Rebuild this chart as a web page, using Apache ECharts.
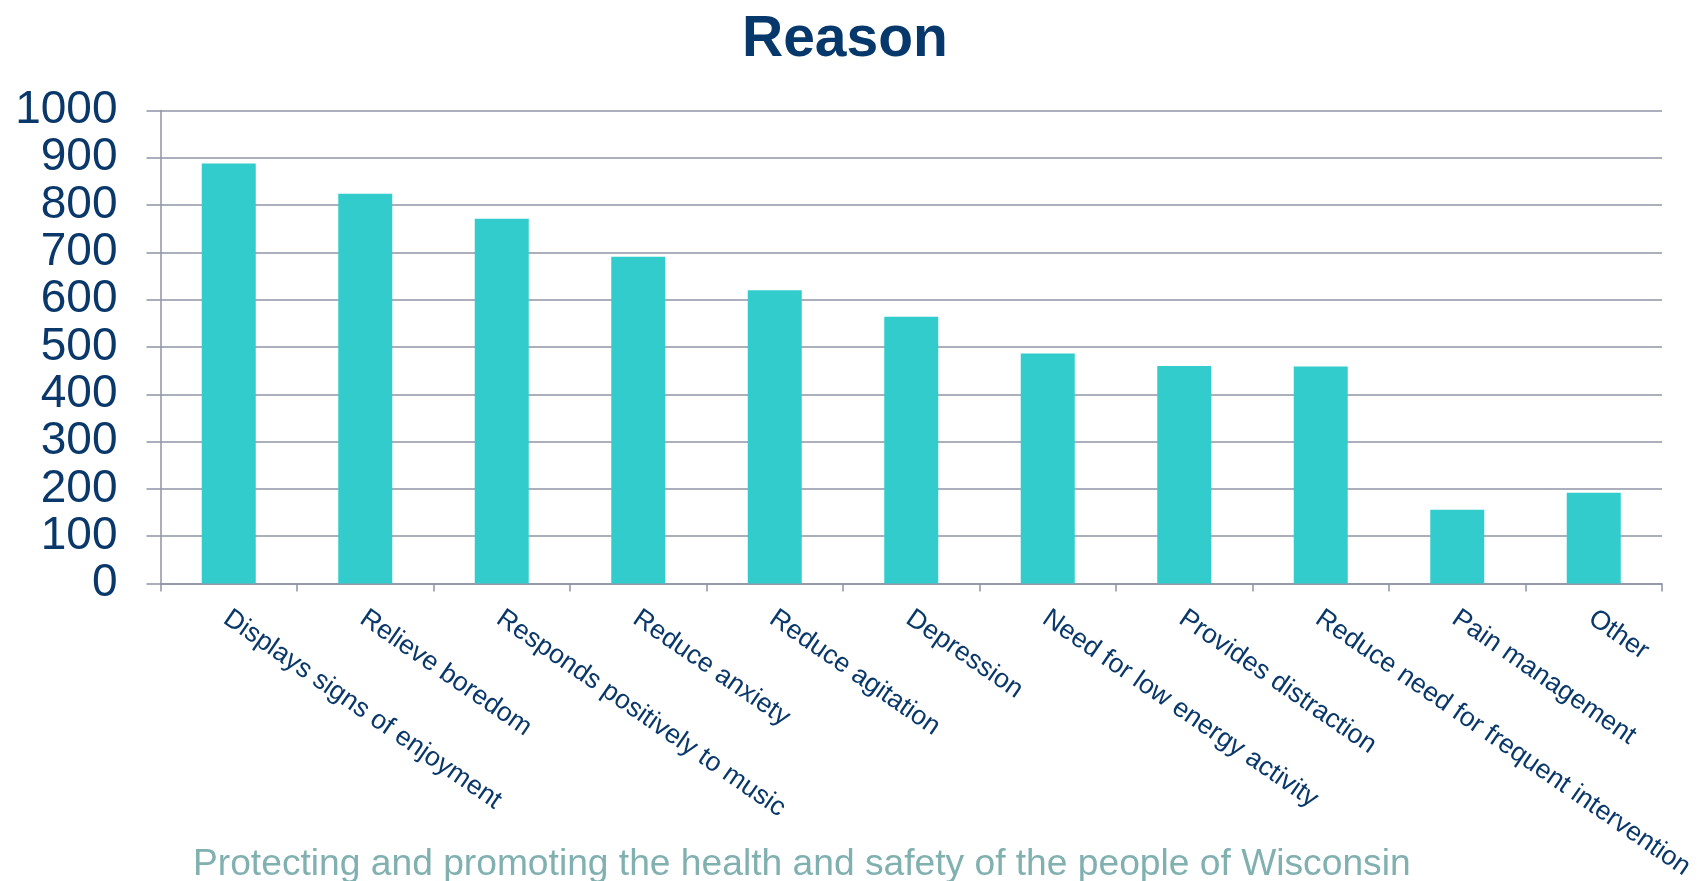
<!DOCTYPE html>
<html>
<head>
<meta charset="utf-8">
<script src="https://cdn.jsdelivr.net/npm/echarts@6/dist/echarts.min.js"></script>
<style>
html,body{margin:0;padding:0;background:#fff;}
#chart{width:1699px;height:881px;}
</style>
</head>
<body>
<div id="chart"></div>
<script>
const titleText = 'Reason';
const footerText = 'Protecting and promoting the health and safety of the people of Wisconsin';
const categories = [
  'Displays signs of enjoyment',
  'Relieve boredom',
  'Responds positively to music',
  'Reduce anxiety',
  'Reduce agitation',
  'Depression',
  'Need for low energy activity',
  'Provides distraction',
  'Reduce need for frequent intervention',
  'Pain management',
  'Other'
];
const values = [888, 824, 771, 691, 620, 564, 486, 460, 459, 156, 192];
const yTicks = [0, 100, 200, 300, 400, 500, 600, 700, 800, 900, 1000];

const FONT = '"Liberation Sans", Arial, sans-serif';
const NAVY = '#0A386A';
const GRID = '#8F93A5';

const chart = echarts.init(document.getElementById('chart'), null, {renderer: 'canvas'});
chart.setOption({
  backgroundColor: '#ffffff',
  animation: false,
  title: {
    text: titleText,
    left: 737,
    top: 7,
    textStyle: {fontFamily: FONT, fontSize: 57, fontWeight: 'bold', color: '#06386B'}
  },
  grid: {left: 160.5, right: 37, top: 110.5, bottom: 297.5, containLabel: false, outerBoundsMode: 'none'},
  xAxis: {
    type: 'category',
    data: categories,
    boundaryGap: true,
    axisLine: {show: true, lineStyle: {color: GRID, width: 1.5}},
    axisTick: {show: true, length: 8, lineStyle: {color: GRID, width: 1.5}},
    axisLabel: {
      interval: 0,
      rotate: -34.5,
      margin: 18,
      align: 'left',
      verticalAlign: 'top',
      padding: [0, 0, 0, 6],
      fontFamily: FONT,
      fontSize: 26.7,
      color: NAVY,
      hideOverlap: false
    },
    splitLine: {show: false}
  },
  yAxis: {
    type: 'value',
    min: yTicks[0],
    max: yTicks[yTicks.length - 1],
    interval: 100,
    axisLine: {show: true, lineStyle: {color: GRID, width: 1.5}},
    axisTick: {show: true, length: 14, lineStyle: {color: GRID, width: 1.5}},
    axisLabel: {margin: 43, fontFamily: FONT, fontSize: 46, color: NAVY, formatter: function (v) { return String(v); }},
    splitLine: {show: true, lineStyle: {color: GRID, width: 1.5}}
  },
  series: [{
    type: 'bar',
    data: values,
    barWidth: 54,
    itemStyle: {color: '#33CCCC'}
  }],
  graphic: [{
    type: 'text',
    left: 193,
    top: 846,
    style: {text: footerText, fontFamily: FONT, fontSize: 37.2, fill: '#80B0AF'}
  }]
});
</script>
</body>
</html>
